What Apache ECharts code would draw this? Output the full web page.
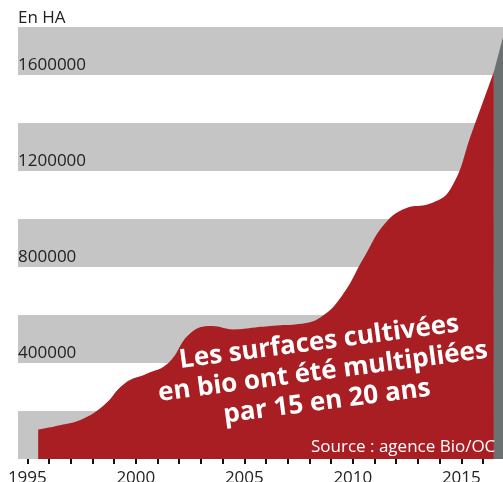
<!DOCTYPE html>
<html>
<head>
<meta charset="utf-8">
<script src="https://cdn.jsdelivr.net/npm/echarts@6/dist/echarts.min.js"></script>
<style>
  html, body { margin: 0; padding: 0; background: #fff; }
  #chart { width: 503px; height: 482px; }
</style>
</head>
<body>
<div id="chart"></div>
<script>
// surfaces en bio (ha), point placed mid-year
const years = [1995, 1996, 1997, 1998, 1999, 2000, 2001, 2002, 2003, 2004, 2005,
  2006, 2007, 2008, 2009, 2010, 2011, 2012, 2013, 2014, 2015, 2016]
const hectares = [123000, 141000, 165000, 222000, 316000, 355000, 400000, 523000, 554000, 540000, 548000,
  556000, 562000, 590000, 680000, 837000, 983000, 1047000, 1062000, 1125000, 1365000, 1614000]
// right edge "side" block
const sideEdge = [[2016.5, 1614000], [2016.92, 1758000]]
const tickYears = [1995, 1996, 1997, 1998, 1999, 2000, 2001, 2002, 2003, 2004, 2005,
  2006, 2007, 2008, 2009, 2010, 2011, 2012, 2013, 2014, 2015, 2016]
const labelYears = [1995, 2000, 2005, 2010, 2015]

const FONT = '"Open Sans", "Noto Sans", sans-serif'

const chart = echarts.init(document.getElementById('chart'))

chart.setOption({
  animation: false,
  textStyle: { fontFamily: FONT },
  title: {
    text: 'En HA', left: 18, top: 10, padding: 0,
    textStyle: { fontFamily: FONT, fontSize: 17, fontWeight: 'normal', color: '#222' },
  },
  grid: { left: 18, right: 0, top: 27, bottom: 23, outerBoundsMode: 'none', containLabel: false },
  xAxis: {
    type: 'value', min: 1994.57, max: 2016.92,
    axisLine: { show: false },
    splitLine: { show: false },
    axisTick: { show: true, length: 5, customValues: tickYears, lineStyle: { color: '#111', width: 2 } },
    axisLabel: {
      customValues: labelYears, fontSize: 17, color: '#222', margin: 11, fontFamily: FONT,
      formatter: v => String(v),
    },
  },
  yAxis: {
    type: 'value', min: 0, max: 1800000, interval: 200000,
    axisLine: { show: false },
    axisTick: { show: false },
    splitLine: { show: false },
    splitArea: { show: true, areaStyle: { color: ['#c4c5c4', '#ffffff'] } },
    axisLabel: {
      inside: true, margin: 0, align: 'left', verticalAlign: 'bottom', lineHeight: 17,
      padding: [0, 0, 1, 0], fontSize: 17, color: '#222', fontFamily: FONT,
      formatter: v => (v > 0 && v % 400000 === 0) ? String(v) : '',
    },
  },
  series: [
    {
      type: 'line', smooth: 0.45, symbol: 'none',
      data: years.map((y, i) => [y + 0.5, hectares[i]]),
      lineStyle: { width: 0 },
      areaStyle: { color: '#a91e23', opacity: 1 },
      z: 2,
    },
    {
      type: 'line', symbol: 'none',
      data: sideEdge,
      lineStyle: { width: 0 },
      areaStyle: { color: '#6b7071', opacity: 1 },
      z: 2,
    },
  ],
  graphic: [
    {
      type: 'text', x: 323, y: 372, rotation: 7.5 * Math.PI / 180, z: 10,
      style: {
        text: 'Les surfaces cultivées\nen bio ont été multipliées\npar 15 en 20 ans',
        fill: '#fff', font: 'bold 26px ' + FONT,
        align: 'center', verticalAlign: 'middle', lineHeight: 30,
      },
    },
    {
      type: 'text', x: 311, y: 447, z: 10,
      style: {
        text: 'Source : agence Bio/OC', fill: '#fff', font: '17px ' + FONT,
        align: 'left', verticalAlign: 'middle',
      },
    },
  ],
})
</script>
</body>
</html>
